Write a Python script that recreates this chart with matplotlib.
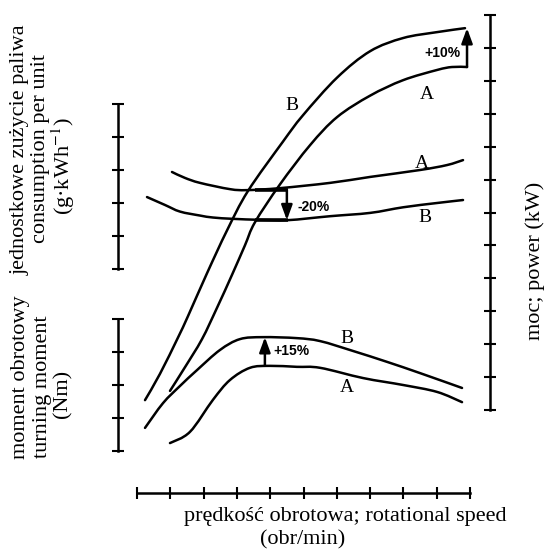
import matplotlib
matplotlib.use('Agg')
import matplotlib.pyplot as plt
from matplotlib.path import Path
from matplotlib.patches import PathPatch
import numpy as np

# prędkość obrotowa w działkach osi poziomej (0-10)
# moc w działkach prawej osi (0-12)
power_b_x = [0.24, 0.69, 1.23, 1.53, 2.10, 2.70, 3.33, 4.38, 4.98, 6.01, 7.00, 7.99, 9.01, 9.85]
power_b_y = [0.30, 1.10, 2.20, 2.85, 4.15, 5.45, 6.65, 8.15, 8.95, 10.10, 10.90, 11.30, 11.48, 11.60]
power_a_x = [0.99, 1.44, 1.95, 2.40, 2.85, 3.24, 3.54, 4.29, 5.20, 6.01, 7.00, 7.99, 9.01, 9.46, 9.91]
power_a_y = [0.58, 1.30, 2.15, 3.10, 4.10, 5.00, 5.70, 6.85, 8.05, 8.90, 9.55, 10.02, 10.33, 10.42, 10.42]

# jednostkowe zużycie paliwa (działki górnej lewej osi 0-5)
fuel_a_x = [1.05, 1.44, 1.89, 2.79, 3.30, 4.29, 5.80, 7.00, 8.50, 9.31, 9.79]
fuel_a_y = [2.94, 2.76, 2.61, 2.42, 2.39, 2.45, 2.61, 2.79, 3.00, 3.15, 3.30]
fuel_b_x = [0.30, 0.84, 1.29, 1.89, 2.28, 2.88, 3.69, 4.53, 5.80, 7.00, 7.99, 9.01, 9.79]
fuel_b_y = [2.18, 1.94, 1.74, 1.62, 1.56, 1.52, 1.49, 1.48, 1.60, 1.70, 1.87, 2.00, 2.09]

# moment obrotowy (działki dolnej lewej osi 0-4)
torque_b_x = [0.24, 0.78, 1.29, 1.80, 2.49, 3.09, 3.78, 4.80, 5.50, 6.49, 7.51, 8.50, 9.76]
torque_b_y = [0.70, 1.45, 1.97, 2.45, 3.06, 3.39, 3.45, 3.42, 3.33, 3.03, 2.70, 2.36, 1.91]
torque_a_x = [0.99, 1.59, 2.28, 2.79, 3.39, 3.99, 4.80, 5.50, 6.79, 7.99, 9.01, 9.76]
torque_a_y = [0.24, 0.58, 1.55, 2.15, 2.52, 2.58, 2.55, 2.52, 2.21, 2.00, 1.79, 1.48]

# strzałki zmian: (x, od, do, napis, x napisu, y napisu)
power_gain = (9.91, 10.42, 11.60, '+10%', 9.16, 10.84)
fuel_drop = (4.50, 2.40, 1.48, '-20%', 4.83, 1.88)
torque_gain = (3.84, 2.58, 3.45, '+15%', 4.08, 3.02)
fuel_bracket_x = (3.54, 4.53)

# litery krzywych
power_labels = [('B', 4.65, 9.26), ('A', 8.71, 9.57)]
fuel_labels = [('A', 8.56, 3.21), ('B', 8.65, 1.55)]
torque_labels = [('B', 6.31, 3.42), ('A', 6.31, 1.91)]

SERIF = ['Liberation Serif', 'DejaVu Serif']
SANS = ['Liberation Sans', 'DejaVu Sans']
LW = 1.8
plt.rcParams['mathtext.fontset'] = 'stix'


def smooth_curve(ax, xs, ys):
    # krzywa gładka przez odczytane punkty (Catmull-Rom jako Bezier)
    pts = np.column_stack([xs, ys])
    n = len(pts)
    verts = [pts[0]]
    codes = [Path.MOVETO]
    for i in range(n - 1):
        p0 = pts[max(i - 1, 0)]
        p1 = pts[i]
        p2 = pts[i + 1]
        p3 = pts[min(i + 2, n - 1)]
        verts += [p1 + (p2 - p0) / 6, p2 - (p3 - p1) / 6, p2]
        codes += [Path.CURVE4] * 3
    ax.add_patch(PathPatch(Path(verts, codes), fill=False, ec='black', lw=LW,
                           capstyle='round', joinstyle='round'))


W, H = 547, 553
fig = plt.figure(figsize=(W / 100, H / 100), dpi=100, facecolor='white')
rect = [118 / W, 1 - 493 / H, (490 - 118) / W, (493 - 15) / H]
ax_p = fig.add_axes(rect)
ax_f = fig.add_axes(rect, sharex=ax_p)
ax_t = fig.add_axes(rect, sharex=ax_p)

ax_p.set_xlim(-0.571, 10.60)
ax_p.set_ylim(-2.521, 12.0)
ax_f.set_ylim(-6.788, 7.697)
ax_t.set_ylim(-1.273, 13.212)

for a in (ax_p, ax_f, ax_t):
    a.patch.set_alpha(0)
    for s in a.spines.values():
        s.set_visible(False)
        s.set_linewidth(LW)
    a.tick_params(which='both', direction='inout', length=8.5, width=1.5,
                  bottom=False, top=False, left=False, right=False,
                  labelbottom=False, labeltop=False, labelleft=False, labelright=False)

# os predkosci
ax_p.spines['bottom'].set_visible(True)
ax_p.spines['bottom'].set_bounds(0, 10)
ax_p.set_xticks(range(11))
ax_p.tick_params(axis='x', bottom=True)
# os mocy
ax_p.spines['right'].set_visible(True)
ax_p.spines['right'].set_bounds(0, 12)
ax_p.set_yticks(range(13))
ax_p.tick_params(axis='y', right=True)
# os zuzycia paliwa
ax_f.spines['left'].set_visible(True)
ax_f.spines['left'].set_bounds(0, 5)
ax_f.set_yticks(range(6))
ax_f.tick_params(axis='y', left=True)
# os momentu
ax_t.spines['left'].set_visible(True)
ax_t.spines['left'].set_bounds(0, 4)
ax_t.set_yticks(range(5))
ax_t.tick_params(axis='y', left=True)

smooth_curve(ax_p, power_b_x, power_b_y)
smooth_curve(ax_p, power_a_x, power_a_y)
smooth_curve(ax_f, fuel_a_x, fuel_a_y)
smooth_curve(ax_f, fuel_b_x, fuel_b_y)
smooth_curve(ax_t, torque_b_x, torque_b_y)
smooth_curve(ax_t, torque_a_x, torque_a_y)

ax_f.hlines([fuel_drop[1], fuel_drop[2]], fuel_bracket_x[0], fuel_bracket_x[1],
            color='black', lw=2.6)

arrow_kw = dict(arrowstyle='-|>,head_length=0.6,head_width=0.22', color='black',
                lw=LW, mutation_scale=15, shrinkA=0, shrinkB=0)
for a, (x, y0, y1, txt, tx, ty) in ((ax_p, power_gain), (ax_f, fuel_drop), (ax_t, torque_gain)):
    a.annotate('', xy=(x, y1), xytext=(x, y0), arrowprops=arrow_kw)
    ha = 'center' if a is ax_p else 'left'
    a.text(tx, ty, txt, ha=ha, va='center', fontsize=10, fontweight='bold', family=SANS)

for a, labels in ((ax_p, power_labels), (ax_f, fuel_labels), (ax_t, torque_labels)):
    for txt, x, y in labels:
        a.text(x, y, txt, ha='center', va='center', fontsize=14, family=SERIF)


def fig_text(px, py, s, rot=0):
    fig.text(px / W, 1 - py / H, s, ha='center', va='center', rotation=rot,
             fontsize=16, family=SERIF)


fig_text(20, 150, 'jednostkowe zużycie paliwa', 90)
fig_text(41, 149, 'consumption per unit', 90)
fig_text(63, 166, '(g·kWh$^{-1}$)', 90)
fig_text(21, 377, 'moment obrotowy', 90)
fig_text(42, 387, 'turning moment', 90)
fig_text(63, 394, '(Nm)', 90)
fig_text(535, 261, 'moc; power (kW)', 90)
fig_text(345, 517, 'prędkość obrotowa; rotational speed')
fig_text(303, 540, '(obr/min)')

fig.savefig('out.png', dpi=100, facecolor='white')
